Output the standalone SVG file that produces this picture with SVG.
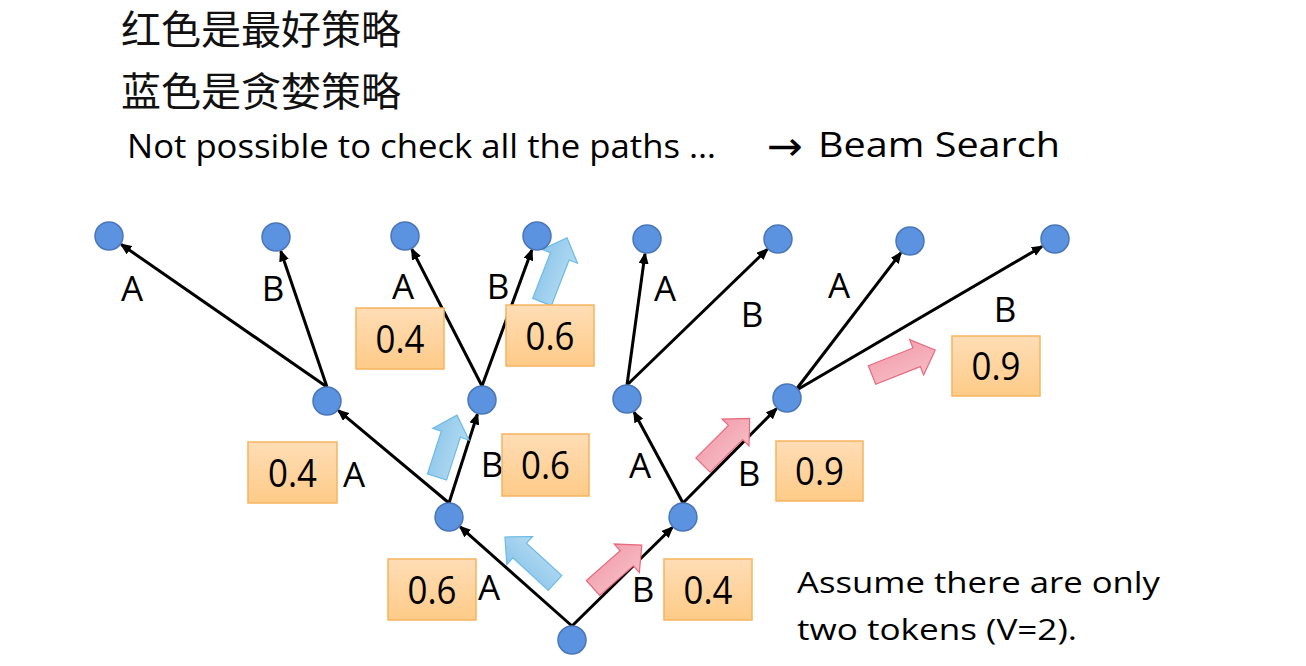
<svg xmlns="http://www.w3.org/2000/svg" width="1306" height="666" viewBox="0 0 1306 666">
<style>
.cjk{font-family:"Noto Sans CJK SC","Noto Sans",sans-serif;font-size:40px;fill:#111}
.en{font-family:"Open Sans","Liberation Sans",sans-serif;fill:#000}
.lbl{font-family:"Open Sans","Liberation Sans",sans-serif;font-size:35px;fill:#000;text-anchor:middle}
.num{font-family:"Open Sans","Liberation Sans",sans-serif;font-size:38px;fill:#000;text-anchor:middle}
.node{fill:#5B93E0;stroke:#4A76B8;stroke-width:1.5}
.edge{stroke:#000;stroke-width:3;fill:none;marker-end:url(#ah)}
.box{fill:url(#og);stroke:#F6B45E;stroke-width:1.5}
.ba{fill:url(#bg);stroke:#6DB9E6;stroke-width:1.2}
.ra{fill:url(#rg);stroke:#E86A7E;stroke-width:1.2}
</style>
<defs>
<marker id="ah" markerUnits="userSpaceOnUse" markerWidth="12" markerHeight="10" viewBox="0 0 12 10" refX="10" refY="5" orient="auto">
<path d="M0,0 L12,5 L0,10 z" fill="#000"/>
</marker>
<linearGradient id="og" x1="0" y1="0" x2="0" y2="1">
<stop offset="0" stop-color="#FFDDB6"/>
<stop offset="1" stop-color="#FECB88"/>
</linearGradient>
<linearGradient id="bg" x1="0" y1="0" x2="0" y2="1">
<stop offset="0" stop-color="#8CC5EA"/>
<stop offset="1" stop-color="#B3DBF2"/>
</linearGradient>
<linearGradient id="rg" x1="0" y1="0" x2="0" y2="1">
<stop offset="0" stop-color="#F2A0AE"/>
<stop offset="1" stop-color="#F6BCC5"/>
</linearGradient>
</defs>

<g id="texts">
<text class="cjk" x="121" y="44">红色是最好策略</text>
<text class="cjk" x="121" y="106">蓝色是贪婪策略</text>
<text class="en" x="127" y="158" font-size="32" textLength="589" lengthAdjust="spacingAndGlyphs">Not possible to check all the paths …</text>
<text x="767" y="160" font-family="DejaVu Sans, sans-serif" font-size="40" fill="#000" textLength="36" lengthAdjust="spacingAndGlyphs">→</text>
<text class="en" x="818" y="157" font-size="34" textLength="242" lengthAdjust="spacingAndGlyphs">Beam Search</text>
<text class="en" x="797" y="593" font-size="30" textLength="363" lengthAdjust="spacingAndGlyphs">Assume there are only</text>
<text class="en" x="797" y="640" font-size="30" textLength="280" lengthAdjust="spacingAndGlyphs">two tokens (V=2).</text>
</g>

<g id="connectors">
<line class="edge" x1="572" y1="626" x2="460.2" y2="526.9"/>
<line class="edge" x1="572" y1="626" x2="672.3" y2="527.5"/>
<line class="edge" x1="449" y1="503" x2="338.5" y2="410.6"/>
<line class="edge" x1="449" y1="503" x2="477.4" y2="414.3"/>
<line class="edge" x1="683" y1="503" x2="634.1" y2="412.2"/>
<line class="edge" x1="683" y1="503" x2="776.4" y2="408.7"/>
<line class="edge" x1="327" y1="387" x2="121.3" y2="244.5"/>
<line class="edge" x1="327" y1="387" x2="280.8" y2="251.2"/>
<line class="edge" x1="482" y1="386" x2="411.9" y2="249.3"/>
<line class="edge" x1="482" y1="386" x2="531.8" y2="250.1"/>
<line class="edge" x1="627" y1="385" x2="645.0" y2="253.9"/>
<line class="edge" x1="627" y1="385" x2="767.2" y2="249.4"/>
<line class="edge" x1="795" y1="391" x2="900.8" y2="252.9"/>
<line class="edge" x1="795" y1="391" x2="1042.0" y2="246.5"/>
</g>

<g id="block-arrows">
<path class="ba" transform="translate(555,583) rotate(-137.4)" d="M0,-10 H48 V-19 L68,0 L48,19 V10 H0 Z"/>
<path class="ba" transform="translate(437,477) rotate(-72.1)" d="M0,-10 H45 V-19 L65,0 L45,19 V10 H0 Z"/>
<path class="ba" transform="translate(542,302) rotate(-68.7)" d="M0,-10 H49 V-19 L69,0 L49,19 V10 H0 Z"/>
<path class="ra" transform="translate(593,588) rotate(-41.3)" d="M0,-10 H45 V-19 L65,0 L45,19 V10 H0 Z"/>
<path class="ra" transform="translate(703,465) rotate(-45)" d="M0,-10 H46 V-19 L66,0 L46,19 V10 H0 Z"/>
<path class="ra" transform="translate(872,375) rotate(-21.6)" d="M0,-10 H48 V-19 L68,0 L48,19 V10 H0 Z"/>
</g>

<g id="edge-labels">
<text class="lbl" x="132" y="301">A</text>
<text class="lbl" x="273" y="301">B</text>
<text class="lbl" x="403" y="299">A</text>
<text class="lbl" x="498" y="299">B</text>
<text class="lbl" x="665" y="301">A</text>
<text class="lbl" x="752" y="327">B</text>
<text class="lbl" x="839" y="298">A</text>
<text class="lbl" x="1005" y="322">B</text>
<text class="lbl" x="354" y="487">A</text>
<text class="lbl" x="492" y="477">B</text>
<text class="lbl" x="640" y="478">A</text>
<text class="lbl" x="749" y="486">B</text>
<text class="lbl" x="489" y="600">A</text>
<text class="lbl" x="643" y="602">B</text>
</g>

<g id="box-04-top"><rect class="box" x="356" y="308" width="88" height="61"/><text class="num" x="400" y="353" textLength="49" lengthAdjust="spacingAndGlyphs">0.4</text></g>
<g id="box-06-top"><rect class="box" x="506" y="305" width="88" height="61"/><text class="num" x="550" y="350" textLength="49" lengthAdjust="spacingAndGlyphs">0.6</text></g>
<g id="box-09-right"><rect class="box" x="952" y="336" width="88" height="60"/><text class="num" x="996" y="380" textLength="49" lengthAdjust="spacingAndGlyphs">0.9</text></g>
<g id="box-04-left"><rect class="box" x="248" y="442" width="89" height="61"/><text class="num" x="292.5" y="487" textLength="49" lengthAdjust="spacingAndGlyphs">0.4</text></g>
<g id="box-06-mid"><rect class="box" x="502" y="434" width="87" height="62"/><text class="num" x="545.5" y="479" textLength="49" lengthAdjust="spacingAndGlyphs">0.6</text></g>
<g id="box-09-mid"><rect class="box" x="776" y="441" width="87" height="60"/><text class="num" x="819.5" y="485" textLength="49" lengthAdjust="spacingAndGlyphs">0.9</text></g>
<g id="box-06-bottom"><rect class="box" x="388" y="559" width="88" height="61"/><text class="num" x="432" y="604" textLength="49" lengthAdjust="spacingAndGlyphs">0.6</text></g>
<g id="box-04-bottom"><rect class="box" x="664" y="559" width="88" height="61"/><text class="num" x="708" y="604" textLength="49" lengthAdjust="spacingAndGlyphs">0.4</text></g>

<g id="n-root"><circle class="node" cx="572" cy="640" r="14"/></g>
<g id="n-A"><circle class="node" cx="449" cy="517" r="14"/></g>
<g id="n-B"><circle class="node" cx="683" cy="517" r="14"/></g>
<g id="n-AA"><circle class="node" cx="327" cy="401" r="14"/></g>
<g id="n-AB"><circle class="node" cx="482" cy="400" r="14"/></g>
<g id="n-BA"><circle class="node" cx="627" cy="399" r="14"/></g>
<g id="n-BB"><circle class="node" cx="787" cy="398" r="14"/></g>
<g id="n-AAA"><circle class="node" cx="109" cy="236" r="14"/></g>
<g id="n-AAB"><circle class="node" cx="276" cy="237" r="14"/></g>
<g id="n-ABA"><circle class="node" cx="405" cy="236" r="14"/></g>
<g id="n-ABB"><circle class="node" cx="537" cy="236" r="14"/></g>
<g id="n-BAA"><circle class="node" cx="647" cy="239" r="14"/></g>
<g id="n-BAB"><circle class="node" cx="778" cy="239" r="14"/></g>
<g id="n-BBA"><circle class="node" cx="910" cy="241" r="14"/></g>
<g id="n-BBB"><circle class="node" cx="1055" cy="239" r="14"/></g>
</svg>
